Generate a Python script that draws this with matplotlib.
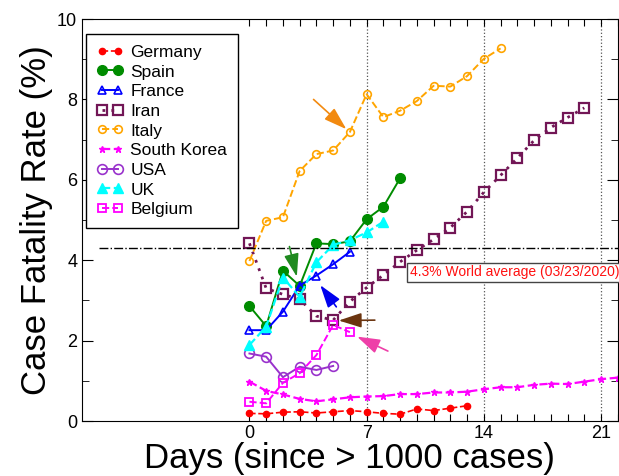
import numpy as np
import matplotlib
matplotlib.use("Agg")
import matplotlib.pyplot as plt

plt.rcParams['font.family'] = ['Liberation Sans', 'DejaVu Sans']

# case fatality rate (%) per day since > 1000 cases
germany = [0.19, 0.18, 0.22, 0.23, 0.20, 0.23, 0.26, 0.23, 0.19, 0.17, 0.30, 0.26, 0.32, 0.38]
spain = [2.86, 2.36, 3.74, 3.36, 4.42, 4.40, 4.47, 5.02, 5.33, 6.04]
france = [2.26, 2.26, 2.72, 3.37, 3.62, 3.90, 4.21]
iran = [4.42, 3.30, 3.15, 3.03, 2.61, 2.51, 2.97, 3.32, 3.63, 3.96, 4.25, 4.52, 4.81,
        5.21, 5.69, 6.11, 6.54, 6.98, 7.30, 7.55, 7.79]
italy = [3.98, 4.98, 5.07, 6.22, 6.64, 6.73, 7.19, 8.13, 7.56, 7.72, 7.96, 8.34, 8.32,
         8.58, 9.01, 9.27]
korea = [0.98, 0.75, 0.66, 0.55, 0.49, 0.54, 0.59, 0.61, 0.62, 0.67, 0.67, 0.71, 0.71,
         0.73, 0.79, 0.84, 0.84, 0.90, 0.93, 0.92, 0.98, 1.04, 1.08]
usa = [1.68, 1.60, 1.09, 1.35, 1.27, 1.37]
uk = [1.89, 2.35, 3.57, 3.09, 3.95, 4.38, 4.50, 4.69, 4.96]
belgium = [0.48, 0.44, 0.95, 1.19, 1.64, 2.39, 2.21]

world_avg = 4.3
week_lines = [7, 14, 21]

# arrows: (tail x, tail y, tip x, tip y, colour)
arrows = [
    (3.83, 8.00, 5.79, 7.26, '#f28a10'),
    (2.39, 4.34, 2.83, 3.59, '#1f8a1f'),
    (5.19, 2.84, 4.23, 3.38, '#0000ee'),
    (7.49, 2.51, 5.33, 2.50, '#6b3510'),
    (8.27, 1.74, 6.43, 2.10, '#ee3fa8'),
]

fig = plt.figure(figsize=(6.19, 4.76), dpi=100)
ax = fig.add_axes([0.1325, 0.1155, 0.8655, 0.8445])

def days(v):
    return np.arange(len(v))

ax.plot(days(germany), germany, '--', color='#ff0000', marker='o', ms=4.5, lw=1.2, label='Germany')
ax.plot(days(spain), spain, '-', color='#008c00', marker='o', ms=7, lw=1.4, label='Spain')
ax.plot(days(france), france, '-', color='#0000ff', marker='^', ms=6, mfc='none', mew=1.2, lw=1.4, label='France')
ax.plot(days(iran), iran, ls=(0, (1, 2.2)), color='#721656', marker='s', ms=6.5, mfc='none', mew=1.6, lw=2, label='Iran')
ax.plot(days(italy), italy, '--', color='#ffa500', marker='o', ms=5.5, mfc='none', mew=1.2, lw=1.4, label='Italy')
ax.plot(days(korea), korea, '--', color='#ff00ff', marker='*', ms=5, lw=1.6, label='South Korea')
ax.plot(days(usa), usa, '-', color='#9932cc', marker='o', ms=7, mfc='none', mew=1.2, lw=1.4, label='USA')
ax.plot(days(uk), uk, '--', color='#00ffff', marker='^', ms=7, lw=1.6, label='UK')
ax.plot(days(belgium), belgium, '--', color='#ff00ff', marker='s', ms=6, mfc='none', mew=1.3, lw=1.4, label='Belgium')

ax.plot([-9, 22], [world_avg, world_avg], '-.', color='black', lw=1)
for d in week_lines:
    ax.axvline(d, color='#555555', ls=':', lw=0.9, zorder=0)

ax.text(9.6, 3.7, '4.3% World average (03/23/2020)', color='#ff1010', fontsize=10,
        va='center', ha='left',
        bbox=dict(boxstyle='square,pad=0.2', fc='white', ec='#444444', lw=1))

for x0, y0, x1, y1, c in arrows:
    ax.annotate('', xy=(x1, y1), xytext=(x0, y0),
                arrowprops=dict(arrowstyle='-|>,head_length=1.4,head_width=0.45',
                                color=c, lw=1.2, shrinkA=0, shrinkB=0))

ax.set_xlim(-10, 22)
ax.set_ylim(0, 10)
ax.set_xticks(range(0, 23))
ax.set_xticklabels([str(d) if d % 7 == 0 else '' for d in range(0, 23)])
ax.set_yticks([0, 2, 4, 6, 8, 10])
ax.set_yticks(range(1, 10, 2), minor=True)
ax.tick_params(axis='both', which='both', direction='in', top=True, right=True, labelsize=13)
ax.tick_params(axis='x', which='major', length=5, pad=3)
ax.tick_params(axis='y', which='major', length=8, pad=3.5)
ax.tick_params(axis='y', which='minor', length=5)

ax.set_xlabel('Days (since > 1000 cases)', fontsize=25, labelpad=0)
ax.set_ylabel('Case Fatality Rate (%)', fontsize=25, labelpad=3)

leg = ax.legend(loc='upper left', bbox_to_anchor=(0.0075, 0.962), fontsize=12.5,
                numpoints=2, handlelength=1.55, handletextpad=0.4, labelspacing=0.26,
                borderpad=0.6, borderaxespad=0, fancybox=False, framealpha=1,
                edgecolor='black')
leg.get_frame().set_linewidth(1)

fig.savefig('out.png', dpi=100)
